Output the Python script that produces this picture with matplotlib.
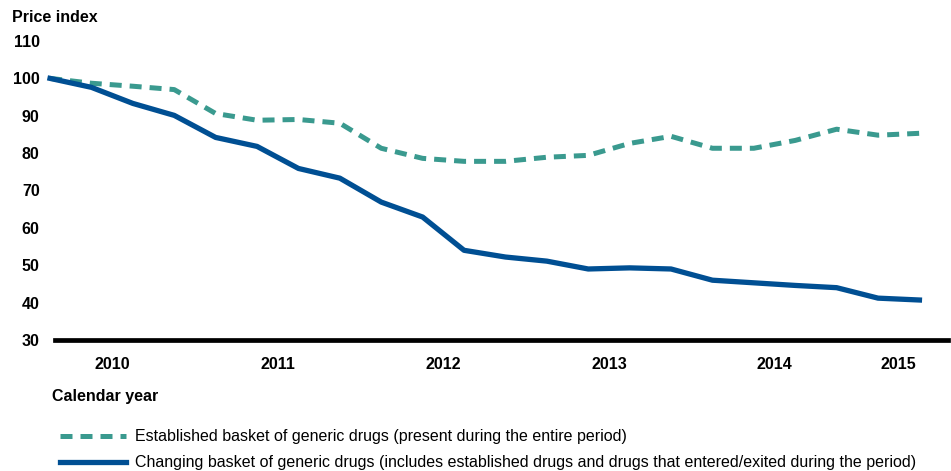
#!/usr/bin/env python3
import matplotlib
matplotlib.use("Agg")
import matplotlib.pyplot as plt
import numpy as np

plt.rcParams['font.family'] = ['Liberation Sans', 'DejaVu Sans']

# quarterly index, 2010 Q1 .. 2015 Q2
quarters = np.arange(22)
established = [100, 98.7, 97.9, 97.0, 90.6, 88.8, 89.0, 88.0, 81.3, 78.6, 77.8,
               77.8, 78.9, 79.4, 82.6, 84.5, 81.3, 81.3, 83.4, 86.4, 84.8, 85.3]
changing = [100, 97.6, 93.3, 90.1, 84.2, 81.8, 75.9, 73.3, 66.9, 62.9, 54.0,
            52.2, 51.1, 49.0, 49.3, 49.0, 46.0, 45.3, 44.6, 44.0, 41.2, 40.7]
years = ["2010", "2011", "2012", "2013", "2014", "2015"]
year_pos = [1.5, 5.5, 9.5, 13.5, 17.5, 20.5]
yticks = [30, 40, 50, 60, 70, 80, 90, 100, 110]

teal = "#3a9a8f"
blue = "#004f93"
fs = 11.5

fig = plt.figure(figsize=(9.51, 4.71), dpi=100)
ax = fig.add_axes([55/951, 1 - 340/471, 893/951, 299/471])

ax.plot(quarters, established, color=teal, lw=3.6, dashes=(2.4, 1.6),
        clip_on=False, label="Established basket of generic drugs (present during the entire period)")
ax.plot(quarters, changing, color=blue, lw=3.8, clip_on=False,
        label="Changing basket of generic drugs (includes established drugs and drugs that entered/exited during the period)")

ax.set_xlim(0.12, 21.69)
ax.set_ylim(30, 110)
ax.set_yticks(yticks)
ax.set_yticklabels([str(v) for v in yticks], fontsize=fs, fontweight="bold")
ax.set_xticks(year_pos)
ax.set_xticklabels(years, fontsize=fs, fontweight="bold")
ax.tick_params(axis="y", length=0, pad=11)
ax.tick_params(axis="x", length=0, pad=12)
for s in ["top", "right", "left"]:
    ax.spines[s].set_visible(False)
ax.spines["bottom"].set_linewidth(3.4)
ax.spines["bottom"].set_color("black")
ax.spines["bottom"].set_zorder(1)

fig.text(12/951, 1 - 17/471, "Price index", fontsize=fs, fontweight="bold", va="center", ha="left")
fig.text(52/951, 1 - 397/471, "Calendar year", fontsize=fs, fontweight="bold", va="center", ha="left")

leg = fig.legend(loc="upper left", bbox_to_anchor=(54/951, 1 - 423/471), frameon=False,
                 fontsize=fs, handlelength=4.1, handletextpad=0.6, labelspacing=0.67,
                 borderaxespad=0)

plt.savefig("out.png", dpi=100)
